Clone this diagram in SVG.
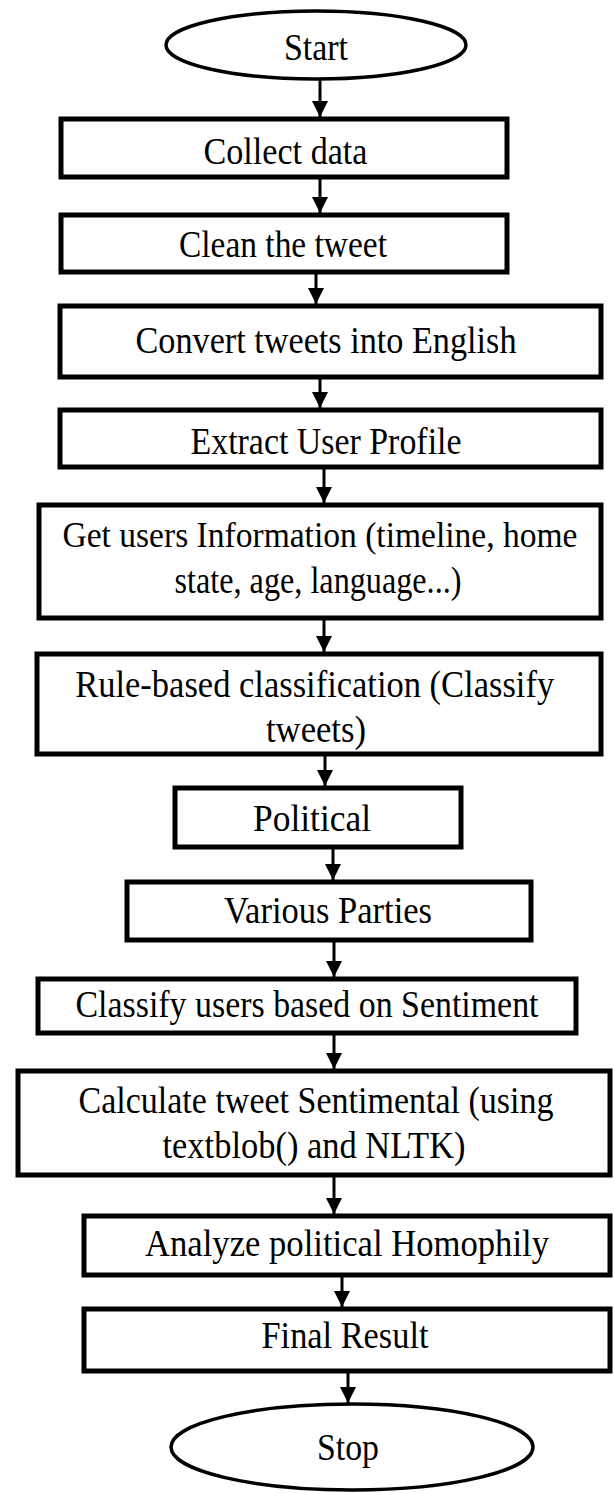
<svg xmlns="http://www.w3.org/2000/svg" width="613" height="1493" viewBox="0 0 613 1493">
<style>
.box{fill:#fff;stroke:#000;stroke-width:5}
.term{fill:#fff;stroke:#000;stroke-width:3.5}
.lbl{font-family:"Liberation Serif","Times New Roman",serif;font-size:38px;fill:#000;text-anchor:middle}
.sm{font-size:36px}
.edge{stroke:#000;stroke-width:3;fill:none;marker-end:url(#ah)}
</style>
<defs>
<marker id="ah" markerUnits="userSpaceOnUse" markerWidth="16" markerHeight="16" viewBox="0 0 16 16" refX="16" refY="8" orient="auto">
<path d="M0,0 L16,8 L0,16 Z" fill="#000"/>
</marker>
</defs>
<rect width="613" height="1493" fill="#fff"/>
<g id="connectors">
<line class="edge" x1="320" y1="80" x2="320" y2="117"/>
<line class="edge" x1="320" y1="179" x2="320" y2="213"/>
<line class="edge" x1="316" y1="274" x2="316" y2="304"/>
<line class="edge" x1="320" y1="379" x2="320" y2="408"/>
<line class="edge" x1="324" y1="469" x2="324" y2="503"/>
<line class="edge" x1="324" y1="620" x2="324" y2="652"/>
<line class="edge" x1="325" y1="756" x2="325" y2="786"/>
<line class="edge" x1="333" y1="849" x2="333" y2="880"/>
<line class="edge" x1="334" y1="942" x2="334" y2="977"/>
<line class="edge" x1="334" y1="1035" x2="334" y2="1069"/>
<line class="edge" x1="334" y1="1177" x2="334" y2="1214"/>
<line class="edge" x1="342" y1="1277" x2="342" y2="1307"/>
<line class="edge" x1="348" y1="1373" x2="348" y2="1403"/>
</g>
<g id="start"><ellipse class="term" cx="316" cy="45" rx="150" ry="34"/><text class="lbl" x="316" y="60" textLength="64" lengthAdjust="spacingAndGlyphs">Start</text></g>
<g id="collect"><rect class="box" x="61" y="119" width="446" height="58"/><text class="lbl" x="285.5" y="164" textLength="164" lengthAdjust="spacingAndGlyphs">Collect data</text></g>
<g id="clean"><rect class="box" x="61" y="215" width="446" height="57"/><text class="lbl" x="283" y="257" textLength="208" lengthAdjust="spacingAndGlyphs">Clean the tweet</text></g>
<g id="convert"><rect class="box" x="60" y="306" width="541" height="71"/><text class="lbl" x="326" y="353" textLength="381" lengthAdjust="spacingAndGlyphs">Convert tweets into English</text></g>
<g id="extract"><rect class="box" x="60" y="410" width="541" height="57"/><text class="lbl" x="326" y="454" textLength="271" lengthAdjust="spacingAndGlyphs">Extract User Profile</text></g>
<g id="getinfo"><rect class="box" x="39" y="505" width="562" height="113"/><text class="lbl sm" x="320" y="547" textLength="515" lengthAdjust="spacingAndGlyphs">Get users Information (timeline, home</text><text class="lbl" x="318" y="593" textLength="287" lengthAdjust="spacingAndGlyphs">state, age, language...)</text></g>
<g id="rule"><rect class="box" x="37" y="654" width="564" height="100"/><text class="lbl" x="314.7" y="697" textLength="479" lengthAdjust="spacingAndGlyphs">Rule-based classification (Classify</text><text class="lbl" x="316" y="742" textLength="100" lengthAdjust="spacingAndGlyphs">tweets)</text></g>
<g id="political"><rect class="box" x="175" y="788" width="286" height="59"/><text class="lbl" x="312" y="831" textLength="118" lengthAdjust="spacingAndGlyphs">Political</text></g>
<g id="parties"><rect class="box" x="127" y="882" width="404" height="58"/><text class="lbl" x="328" y="923" textLength="208" lengthAdjust="spacingAndGlyphs">Various Parties</text></g>
<g id="classify"><rect class="box" x="38" y="979" width="538" height="54"/><text class="lbl" x="307" y="1017" textLength="463" lengthAdjust="spacingAndGlyphs">Classify users based on Sentiment</text></g>
<g id="calculate"><rect class="box" x="18" y="1071" width="592" height="104"/><text class="lbl" x="316" y="1113" textLength="475" lengthAdjust="spacingAndGlyphs">Calculate tweet Sentimental (using</text><text class="lbl" x="314" y="1158" textLength="303" lengthAdjust="spacingAndGlyphs">textblob() and NLTK)</text></g>
<g id="analyze"><rect class="box" x="84" y="1216" width="526" height="59"/><text class="lbl" x="347" y="1256" textLength="404" lengthAdjust="spacingAndGlyphs">Analyze political Homophily</text></g>
<g id="final"><rect class="box" x="84" y="1309" width="526" height="62"/><text class="lbl" x="345" y="1348" textLength="167" lengthAdjust="spacingAndGlyphs">Final Result</text></g>
<g id="stop"><ellipse class="term" cx="352" cy="1447" rx="181" ry="43"/><text class="lbl" x="348" y="1460" textLength="62" lengthAdjust="spacingAndGlyphs">Stop</text></g>
</svg>
